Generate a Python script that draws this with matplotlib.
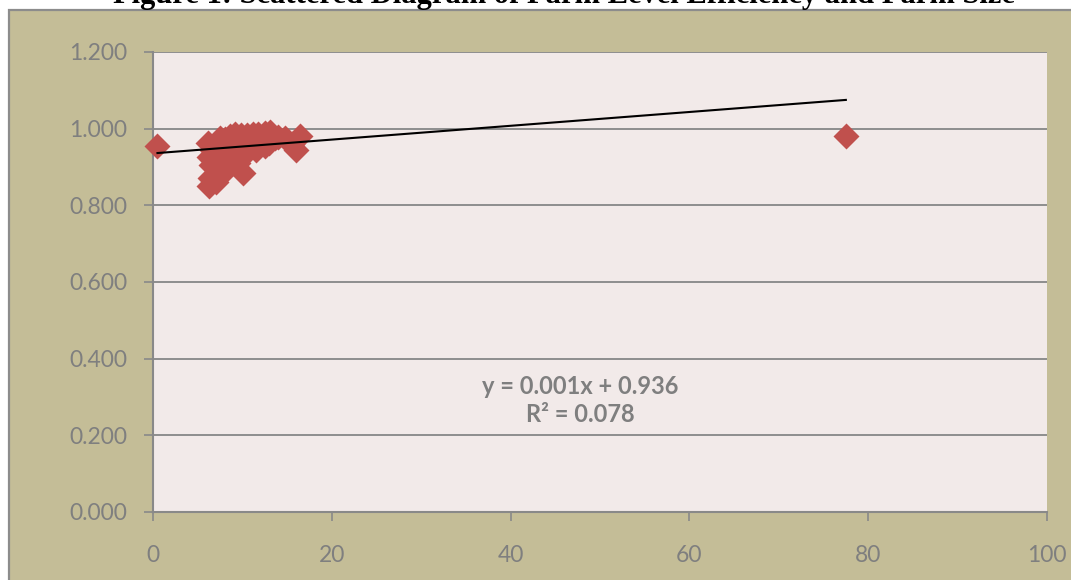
import matplotlib
matplotlib.use("Agg")
import matplotlib.pyplot as plt
from matplotlib.patches import Rectangle

# farm size (x) vs farm level efficiency (y)
farm_size = [0.5, 77.5,
             6.1, 6.3, 6.4, 6.5, 6.3, 6.6, 7.0, 7.0, 7.2, 7.5,
             7.5, 7.8, 8.0, 8.0, 8.2, 8.5, 8.6, 8.5, 9.0, 9.2,
             9.5, 9.5, 9.8, 10.0, 10.1, 10.5, 10.5, 11.0, 11.2, 11.5,
             11.8, 12.0, 12.5, 12.5, 13.0, 13.1, 13.6, 14.0, 14.8, 15.5,
             16.0, 16.4]
efficiency = [0.955, 0.981,
              0.962, 0.851, 0.870, 0.905, 0.925, 0.945, 0.862, 0.930, 0.885, 0.910,
              0.975, 0.955, 0.890, 0.972, 0.940, 0.905, 0.980, 0.930, 0.955, 0.985,
              0.910, 0.935, 0.983, 0.960, 0.884, 0.940, 0.984, 0.960, 0.986, 0.945,
              0.985, 0.965, 0.988, 0.955, 0.962, 0.990, 0.975, 0.978, 0.975, 0.960,
              0.945, 0.982]

# linear trendline as drawn in the picture
trend_slope = 0.0018
trend_intercept = 0.9355
eq_text = "y = 0.001x + 0.936\nR\u00b2 = 0.078"
title = "Figure 1: Scattered Diagram of Farm Level Efficiency and Farm Size"

x_ticks = [0, 20, 40, 60, 80, 100]
y_ticks = [0.0, 0.2, 0.4, 0.6, 0.8, 1.0, 1.2]

W, H = 1071, 580
fig = plt.figure(figsize=(W / 100, H / 100), dpi=100, facecolor="white")

# tan chart area with grey border
fig.patches.append(Rectangle((9 / W, -0.01), 1.0, (H - 10) / H + 0.01,
                             transform=fig.transFigure, facecolor="#C4BD97",
                             edgecolor="#8C8C8C", linewidth=1.6, zorder=-5))
fig.text(564 / W, 1 - 3 / H, title, ha="center", va="baseline",
         fontsize=22, fontweight="bold", family="Liberation Serif", color="black",
         zorder=-4)

ax = fig.add_axes([153 / W, 68 / H, 894 / W, 460 / H])
ax.set_facecolor("#F2EAE9")
ax.set_xlim(0, 100); ax.set_ylim(0, 1.2)
ax.set_xticks(x_ticks); ax.set_yticks(y_ticks)
ax.set_xticklabels([str(v) for v in x_ticks])
ax.set_yticklabels([f"{v:.3f}" for v in y_ticks])
for lab in ax.get_xticklabels() + ax.get_yticklabels():
    lab.set_family("Lato"); lab.set_fontsize(16.5)
ax.tick_params(direction="out", length=6.5, width=1.2, color="#898989",
               labelcolor="#7F7F7F")
ax.tick_params(axis="y", pad=12)
ax.tick_params(axis="x", pad=17)
for s in ("top", "right"):
    ax.spines[s].set_visible(False)
for s in ("left", "bottom"):
    ax.spines[s].set_color("#898989"); ax.spines[s].set_linewidth(1.5)
ax.grid(axis="y", color="#8E8E8E", linewidth=1.4)
ax.set_axisbelow(True)

ax.plot(farm_size, efficiency, "D", ms=13, color="#C0504D", mec="none",
        clip_on=False, zorder=3)

xs = [min(farm_size), max(farm_size)]
ax.plot(xs, [trend_slope * v + trend_intercept for v in xs], color="black",
        lw=1.5, zorder=4)

ax.text(47.8, 0.29, eq_text, ha="center", va="center", fontsize=17,
        fontweight="bold", family="Lato", color="#7F7F7F", linespacing=1.25)

fig.savefig("out.png", dpi=100, facecolor=fig.get_facecolor())
